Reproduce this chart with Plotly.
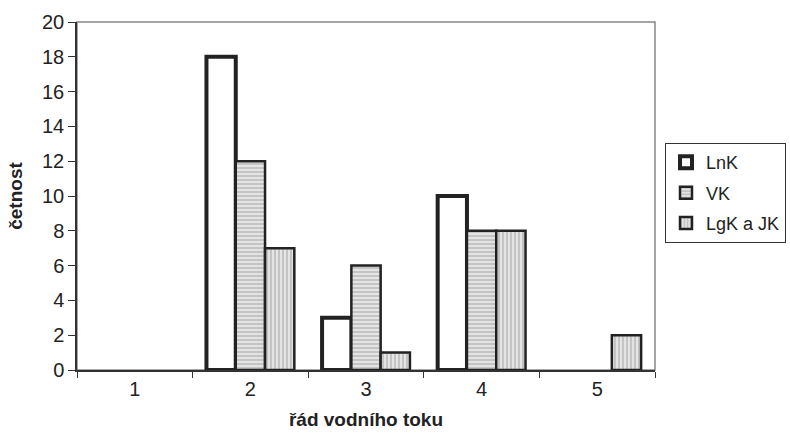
import plotly.graph_objects as go

categories = ["1", "2", "3", "4", "5"]
lnk = [0, 18, 3, 10, 0]
vk = [0, 12, 6, 8, 0]
lgk = [0, 7, 1, 8, 2]


def hide_zero(vals):
    return [v if v != 0 else None for v in vals]


fig = go.Figure()
fig.add_trace(go.Bar(name="LnK", x=categories, y=hide_zero(lnk), legendgroup="a",
                     marker=dict(color="white", line=dict(color="#222", width=4))))
fig.add_trace(go.Bar(name="VK", x=categories, y=hide_zero(vk), legendgroup="b",
                     marker=dict(color="#d8d8d8", line=dict(color="#222", width=2.5),
                                 pattern=dict(shape="-", fgcolor="#777", bgcolor="#e4e4e4",
                                              size=4, solidity=0.3))))
fig.add_trace(go.Bar(name="LgK a JK", x=categories, y=hide_zero(lgk), legendgroup="c",
                     marker=dict(color="#d8d8d8", line=dict(color="#222", width=2.5),
                                 pattern=dict(shape="|", fgcolor="#777", bgcolor="#e4e4e4",
                                              size=4, solidity=0.3))))

fig.update_layout(
    width=840, height=436,
    margin=dict(l=77, r=185, t=22, b=66),
    paper_bgcolor="white", plot_bgcolor="white",
    barmode="group", bargap=0.24, bargroupgap=0,
    font=dict(family="Liberation Sans, Arial, sans-serif", size=20, color="#222"),
    showlegend=True,
    legend=dict(x=1.0173, y=0.652, xanchor="left", yanchor="top",
                bordercolor="#333", borderwidth=1, font=dict(size=18),
                itemwidth=30, tracegroupgap=4),
    xaxis=dict(type="category", tickson="boundaries", ticks="outside", ticklen=6,
               tickcolor="#333", showline=True, linecolor="#333", linewidth=1.5,
               showgrid=False, automargin=False, tickfont=dict(size=20),
               title=dict(text="<b>řád vodního toku</b>", font=dict(size=19), standoff=14)),
    yaxis=dict(range=[0, 20], dtick=2, ticks="outside", ticklen=7, tickcolor="#333",
               showline=True, linecolor="#333", linewidth=1.5, showgrid=False,
               zeroline=False, automargin=False, tickfont=dict(size=20),
               title=dict(text="<b>četnost</b>", font=dict(size=19), standoff=14)),
    shapes=[dict(type="rect", xref="paper", yref="paper", x0=0, y0=0, x1=1, y1=1,
                 line=dict(color="#888", width=1.5), layer="below")],
)

fig.write_html(
    "out.html",
    config={"displayModeBar": False},
    post_script="document.body.style.margin='0';document.body.style.overflow='hidden';",
)
